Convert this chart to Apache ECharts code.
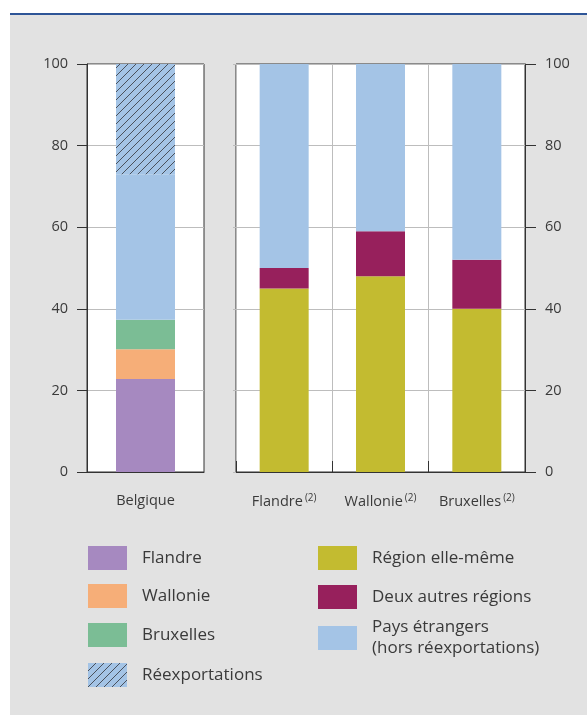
<!DOCTYPE html>
<html>
<head>
<meta charset="utf-8">
<script src="https://cdn.jsdelivr.net/npm/echarts@6/dist/echarts.min.js"></script>
<style>
  html, body { margin: 0; padding: 0; background: #fff; }
  #chart { width: 587px; height: 715px; }
</style>
</head>
<body>
<div id="chart"></div>
<script>
// data
var belgCats = ['Belgique'];
var regionCats = ['Flandre', 'Wallonie', 'Bruxelles'];
var yTicks = [0, 20, 40, 60, 80, 100];

var flandreVals = [22.8];
var wallonieVals = [7.3];
var bruxellesVals = [7.2];
var paysBelgVals = [35.7];
var reexportVals = [27.0];

var regionSelf = [45, 48, 40];
var deuxAutres = [5, 11, 12];
var paysEtr = [50, 41, 48];

var PAYS = 'Pays étrangers\n(hors réexportations)';

// hachures pour les réexportations
function hatch() {
    var c = document.createElement('canvas');
    c.width = 8; c.height = 8;
    var ctx = c.getContext('2d');
    ctx.fillStyle = '#a4c4e6';
    ctx.fillRect(0, 0, 8, 8);
    ctx.strokeStyle = '#333338';
    ctx.lineWidth = 0.8;
    ctx.beginPath();
    ctx.moveTo(0, 8); ctx.lineTo(8, 0);
    ctx.moveTo(-1, 1); ctx.lineTo(1, -1);
    ctx.moveTo(7, 9); ctx.lineTo(9, 7);
    ctx.stroke();
    return { image: c, repeat: 'repeat' };
}

var axisDark = '#333';
var gridGray = '#bdbdbd';
var txt = '#3a3a3a';
var FONT = 'Open Sans';

var myChart = echarts.init(document.getElementById('chart'), null, { renderer: 'canvas' });

function legendItem(name, left, top) {
    return {
        left: left, top: top, padding: 0,
        orient: 'vertical',
        icon: 'rect', itemWidth: 39, itemHeight: 24,
        selectedMode: false,
        data: [name],
        textStyle: { fontFamily: FONT, fontSize: 17, color: txt, lineHeight: 21, padding: [0, 0, 0, 10] }
    };
}

var option = {
    backgroundColor: '#fff',
    animation: false,
    textStyle: { fontFamily: FONT },
    graphic: [
        { type: 'rect', z: -10, shape: { x: 10, y: 15, width: 577, height: 700 }, style: { fill: '#e2e2e2' } },
        { type: 'rect', z: -10, shape: { x: 10, y: 13, width: 577, height: 2 }, style: { fill: '#2e5597' } }
    ],
    grid: [
        { left: 87, top: 64, width: 117, height: 408, show: true, backgroundColor: '#fff', borderColor: axisDark, borderWidth: 1 },
        { left: 236, top: 64, width: 289, height: 408, show: true, backgroundColor: '#fff', borderColor: axisDark, borderWidth: 1 }
    ],
    legend: [
        legendItem('Flandre', 88, 546),
        legendItem('Wallonie', 88, 584),
        legendItem('Bruxelles', 88, 623),
        legendItem('Réexportations', 88, 663),
        legendItem('Région elle-même', 318, 546),
        legendItem('Deux autres régions', 318, 585),
        legendItem(PAYS, 318, 617)
    ],
    xAxis: [
        {
            gridIndex: 0, type: 'category', data: belgCats,
            axisLine: { lineStyle: { color: axisDark } },
            axisTick: { show: false },
            axisLabel: { color: txt, fontSize: 14.5, margin: 21 }
        },
        {
            gridIndex: 1, type: 'category', data: regionCats,
            axisLine: { lineStyle: { color: axisDark } },
            axisTick: { show: true, inside: true, length: 11, interval: 0, lineStyle: { color: axisDark } },
            splitLine: { show: true, interval: 0, lineStyle: { color: gridGray } },
            axisLabel: {
                interval: 0, hideOverlap: false,
                color: txt, fontSize: 14.5, margin: 21,
                formatter: function (v) { return v + '{s|(2)}'; },
                rich: { s: { fontSize: 10, color: txt, verticalAlign: 'top', padding: [0, 0, 7, 2] } }
            }
        }
    ],
    yAxis: [
        {
            gridIndex: 0, type: 'value', min: 0, max: 100, interval: 20,
            axisLine: { show: true, lineStyle: { color: axisDark } },
            axisTick: { show: true, length: 10, lineStyle: { color: axisDark } },
            axisLabel: { color: txt, fontSize: 14.5, margin: 19 },
            splitLine: { lineStyle: { color: gridGray } }
        },
        {
            gridIndex: 1, type: 'value', position: 'right', min: 0, max: 100, interval: 20,
            axisLine: { show: true, lineStyle: { color: axisDark } },
            axisTick: { show: true, length: 11, lineStyle: { color: axisDark } },
            axisLabel: { color: txt, fontSize: 14.5, margin: 20 },
            splitLine: { lineStyle: { color: gridGray } }
        },
        {
            gridIndex: 1, type: 'value', position: 'left', min: 0, max: 100, interval: 20,
            axisLine: { show: false },
            axisTick: { show: true, length: 3, lineStyle: { color: gridGray } },
            axisLabel: { show: false },
            splitLine: { show: false }
        }
    ],
    series: [
        { name: 'Flandre', type: 'bar', stack: 'b', xAxisIndex: 0, yAxisIndex: 0, barWidth: 59, data: flandreVals, itemStyle: { color: '#a689c0' } },
        { name: 'Wallonie', type: 'bar', stack: 'b', xAxisIndex: 0, yAxisIndex: 0, barWidth: 59, data: wallonieVals, itemStyle: { color: '#f6ae78' } },
        { name: 'Bruxelles', type: 'bar', stack: 'b', xAxisIndex: 0, yAxisIndex: 0, barWidth: 59, data: bruxellesVals, itemStyle: { color: '#7bbd95' } },
        { name: PAYS, type: 'bar', stack: 'b', xAxisIndex: 0, yAxisIndex: 0, barWidth: 59, data: paysBelgVals, itemStyle: { color: '#a4c4e6' } },
        { name: 'Réexportations', type: 'bar', stack: 'b', xAxisIndex: 0, yAxisIndex: 0, barWidth: 59, data: reexportVals, itemStyle: { color: hatch() } },

        { name: 'Région elle-même', type: 'bar', stack: 'r', xAxisIndex: 1, yAxisIndex: 1, barWidth: 49, data: regionSelf, itemStyle: { color: '#c3bb30' } },
        { name: 'Deux autres régions', type: 'bar', stack: 'r', xAxisIndex: 1, yAxisIndex: 1, barWidth: 49, data: deuxAutres, itemStyle: { color: '#97205c' } },
        { name: PAYS, type: 'bar', stack: 'r', xAxisIndex: 1, yAxisIndex: 1, barWidth: 49, data: paysEtr, itemStyle: { color: '#a4c4e6' } }
    ]
};

myChart.setOption(option);
</script>
</body>
</html>
